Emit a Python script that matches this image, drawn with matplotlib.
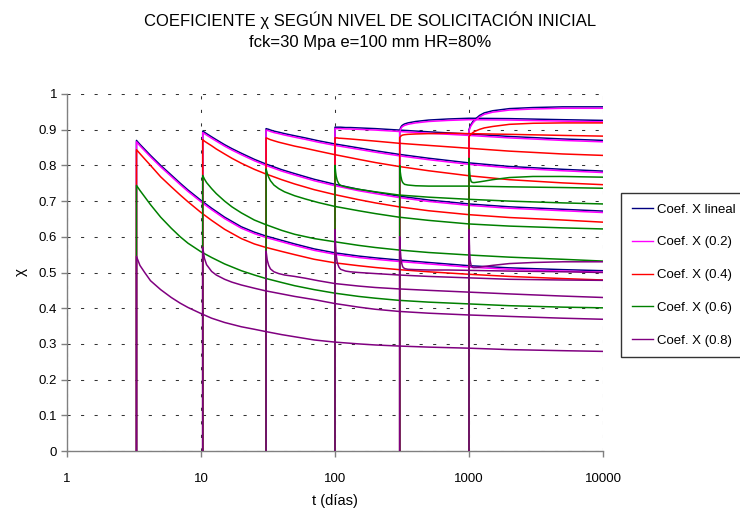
import matplotlib
matplotlib.use("Agg")
import matplotlib.pyplot as plt
from matplotlib.ticker import FixedLocator, NullLocator, FixedFormatter

plt.rcParams["font.family"] = ["Liberation Sans", "DejaVu Sans"]

# ---------------------------------------------------------------------------
# Datos: coeficiente chi para cada edad de puesta en carga t0
# (cada curva arranca en (t0, 0) para dibujar el tramo vertical)
# ---------------------------------------------------------------------------

T3 = [3.3, 3.3, 3.5, 3.8, 4.2, 5, 6, 7, 8, 10, 12, 15, 20, 25, 30, 40, 50, 70,
      100, 150, 200, 300, 500, 1000, 2000, 5000, 10000]
X3_lin = [0, 0.870, 0.859, 0.845, 0.828, 0.800, 0.773, 0.750, 0.731, 0.702, 0.680, 0.655, 0.628,
          0.613, 0.603, 0.590, 0.580, 0.566, 0.555, 0.546, 0.541, 0.535, 0.528, 0.519, 0.513, 0.508, 0.505]
X3_02 = [0, 0.866, 0.855, 0.841, 0.824, 0.796, 0.769, 0.746, 0.727, 0.698, 0.676, 0.651, 0.624,
         0.609, 0.599, 0.586, 0.576, 0.562, 0.551, 0.542, 0.537, 0.531, 0.524, 0.515, 0.509, 0.504, 0.501]
X3_04 = [0, 0.844, 0.833, 0.818, 0.800, 0.768, 0.740, 0.717, 0.698, 0.668, 0.646, 0.621, 0.595,
         0.580, 0.571, 0.559, 0.550, 0.537, 0.527, 0.519, 0.514, 0.508, 0.502, 0.495, 0.489, 0.483, 0.479]
X3_06 = [0, 0.744, 0.730, 0.712, 0.690, 0.655, 0.624, 0.600, 0.582, 0.558, 0.542, 0.524, 0.505,
         0.493, 0.484, 0.472, 0.463, 0.452, 0.442, 0.433, 0.428, 0.422, 0.417, 0.412, 0.407, 0.403, 0.401]
X3_08 = [0, 0.545, 0.520, 0.500, 0.477, 0.452, 0.430, 0.414, 0.402, 0.385, 0.372, 0.360, 0.348,
         0.341, 0.335, 0.326, 0.320, 0.311, 0.305, 0.300, 0.297, 0.294, 0.291, 0.288, 0.284, 0.281, 0.279]

T10 = [10.3, 10.3, 10.6, 11, 12, 13, 15, 17, 20, 25, 30, 40, 50, 70, 100, 150, 200,
       300, 500, 1000, 2000, 5000, 10000]
X10_lin = [0, 0.896, 0.893, 0.889, 0.880, 0.872, 0.858, 0.847, 0.834, 0.817, 0.805, 0.788, 0.777,
           0.761, 0.747, 0.733, 0.725, 0.714, 0.703, 0.692, 0.684, 0.677, 0.672]
X10_02 = [0, 0.892, 0.889, 0.885, 0.876, 0.868, 0.854, 0.843, 0.830, 0.813, 0.801, 0.784, 0.773,
          0.757, 0.743, 0.729, 0.721, 0.710, 0.699, 0.688, 0.680, 0.673, 0.668]
X10_04 = [0, 0.872, 0.868, 0.864, 0.855, 0.846, 0.832, 0.820, 0.806, 0.789, 0.777, 0.760, 0.748,
          0.732, 0.718, 0.704, 0.695, 0.684, 0.673, 0.662, 0.654, 0.647, 0.641]
X10_06 = [0, 0.772, 0.762, 0.752, 0.735, 0.721, 0.700, 0.684, 0.667, 0.647, 0.635, 0.618, 0.607,
          0.595, 0.586, 0.576, 0.570, 0.563, 0.556, 0.549, 0.543, 0.537, 0.532]
X10_08 = [0, 0.571, 0.540, 0.522, 0.503, 0.493, 0.481, 0.473, 0.465, 0.456, 0.449, 0.440, 0.433,
          0.424, 0.413, 0.403, 0.397, 0.391, 0.386, 0.381, 0.377, 0.372, 0.369]

T30 = [30.6, 30.6, 31.2, 32, 33, 35, 38, 42, 50, 60, 75, 100, 150, 200, 300, 500,
       1000, 2000, 5000, 10000]
X30_lin = [0, 0.903, 0.902, 0.901, 0.899, 0.896, 0.893, 0.889, 0.883, 0.877, 0.869, 0.860, 0.849,
           0.841, 0.831, 0.820, 0.807, 0.797, 0.789, 0.784]
X30_02 = [0, 0.899, 0.898, 0.897, 0.895, 0.892, 0.889, 0.885, 0.879, 0.873, 0.865, 0.856, 0.845,
          0.837, 0.827, 0.816, 0.803, 0.793, 0.785, 0.780]
X30_04 = [0, 0.877, 0.876, 0.874, 0.872, 0.869, 0.865, 0.861, 0.854, 0.848, 0.840, 0.830, 0.817,
          0.808, 0.797, 0.785, 0.771, 0.760, 0.751, 0.746]
X30_06 = [0, 0.790, 0.778, 0.767, 0.757, 0.745, 0.735, 0.726, 0.715, 0.706, 0.696, 0.685, 0.673,
          0.665, 0.655, 0.646, 0.636, 0.630, 0.625, 0.622]
X30_08 = [0, 0.560, 0.535, 0.520, 0.510, 0.502, 0.497, 0.493, 0.489, 0.484, 0.477, 0.469, 0.462,
          0.458, 0.454, 0.450, 0.445, 0.440, 0.434, 0.430]

T100 = [100, 100, 101, 102, 104, 107, 110, 120, 130, 150, 200, 300, 500, 1000, 2000,
        5000, 10000]
X100_lin = [0, 0.907, 0.907, 0.907, 0.907, 0.907, 0.907, 0.906, 0.906, 0.905, 0.903, 0.899, 0.894,
            0.888, 0.881, 0.874, 0.870]
X100_02 = [0, 0.903, 0.903, 0.903, 0.903, 0.903, 0.903, 0.902, 0.902, 0.901, 0.899, 0.895, 0.890,
           0.884, 0.877, 0.870, 0.866]
X100_04 = [0, 0.877, 0.877, 0.877, 0.877, 0.876, 0.876, 0.875, 0.874, 0.872, 0.868, 0.862, 0.856,
           0.848, 0.840, 0.832, 0.828]
X100_06 = [0, 0.800, 0.782, 0.770, 0.757, 0.748, 0.744, 0.740, 0.737, 0.733, 0.726, 0.717, 0.711,
           0.705, 0.700, 0.695, 0.692]
X100_08 = [0, 0.620, 0.575, 0.550, 0.527, 0.515, 0.509, 0.504, 0.502, 0.500, 0.497, 0.493, 0.489,
           0.485, 0.481, 0.479, 0.478]

T300 = [304, 304, 307, 310, 315, 320, 330, 350, 400, 500, 700, 1000, 2000, 5000, 10000]
X300_lin = [0, 0.897, 0.903, 0.907, 0.911, 0.913, 0.916, 0.919, 0.923, 0.927, 0.930, 0.932, 0.931,
            0.928, 0.926]
X300_02 = [0, 0.893, 0.899, 0.903, 0.907, 0.909, 0.912, 0.915, 0.919, 0.923, 0.926, 0.928, 0.927,
           0.924, 0.922]
X300_04 = [0, 0.878, 0.880, 0.882, 0.884, 0.885, 0.886, 0.887, 0.888, 0.889, 0.890, 0.889, 0.887,
           0.884, 0.882]
X300_06 = [0, 0.800, 0.782, 0.770, 0.758, 0.752, 0.747, 0.745, 0.743, 0.742, 0.742, 0.742, 0.740,
           0.738, 0.736]
X300_08 = [0, 0.600, 0.565, 0.543, 0.525, 0.516, 0.511, 0.509, 0.508, 0.507, 0.507, 0.506, 0.504,
           0.502, 0.500]

T1000 = [1000, 1000, 1010, 1020, 1040, 1070, 1100, 1200, 1300, 1500, 2000, 3000, 5000, 10000]
X1000_lin = [0, 0.900, 0.905, 0.910, 0.916, 0.923, 0.928, 0.940, 0.947, 0.953, 0.959, 0.962, 0.964,
             0.964]
X1000_02 = [0, 0.896, 0.901, 0.906, 0.912, 0.919, 0.924, 0.936, 0.943, 0.949, 0.955, 0.958, 0.960,
            0.960]
X1000_04 = [0, 0.881, 0.883, 0.885, 0.888, 0.892, 0.895, 0.901, 0.905, 0.909, 0.915, 0.918, 0.919,
            0.919]
X1000_06 = [0, 0.820, 0.785, 0.765, 0.754, 0.752, 0.752, 0.754, 0.756, 0.760, 0.766, 0.769, 0.769,
            0.767]
X1000_08 = [0, 0.620, 0.560, 0.533, 0.518, 0.514, 0.514, 0.515, 0.517, 0.520, 0.525, 0.528, 0.530,
            0.530]

tiempos = [T3, T10, T30, T100, T300, T1000]
series = [
    ("Coef. X lineal", "#000080", [X3_lin, X10_lin, X30_lin, X100_lin, X300_lin, X1000_lin]),
    ("Coef. X (0.2)", "#FF00FF", [X3_02, X10_02, X30_02, X100_02, X300_02, X1000_02]),
    ("Coef. X (0.4)", "#FF0000", [X3_04, X10_04, X30_04, X100_04, X300_04, X1000_04]),
    ("Coef. X (0.6)", "#008000", [X3_06, X10_06, X30_06, X100_06, X300_06, X1000_06]),
    ("Coef. X (0.8)", "#800080", [X3_08, X10_08, X30_08, X100_08, X300_08, X1000_08]),
]

y_ticks = [0, 0.1, 0.2, 0.3, 0.4, 0.5, 0.6, 0.7, 0.8, 0.9, 1]
y_labels = ["0", "0.1", "0.2", "0.3", "0.4", "0.5", "0.6", "0.7", "0.8", "0.9", "1"]
x_ticks = [1, 10, 100, 1000, 10000]
x_labels = ["1", "10", "100", "1000", "10000"]

# ---------------------------------------------------------------------------
# Figura
# ---------------------------------------------------------------------------

fig = plt.figure(figsize=(7.40, 5.08), dpi=100)
ax = fig.add_axes([67 / 740, 1 - 451 / 508, 536 / 740, 357 / 508])

for k, (nombre, color, curvas) in enumerate(series):
    for i, (t, x) in enumerate(zip(tiempos, curvas)):
        ax.plot(t, x, color=color, linewidth=1.1, zorder=3 + k,
                label=nombre if i == 0 else None)

ax.set_xscale("log")
ax.set_xlim(1, 10000)
ax.set_ylim(0, 1)

ax.xaxis.set_major_locator(FixedLocator(x_ticks))
ax.xaxis.set_major_formatter(FixedFormatter(x_labels))
ax.xaxis.set_minor_locator(NullLocator())
ax.yaxis.set_major_locator(FixedLocator(y_ticks))
ax.yaxis.set_major_formatter(FixedFormatter(y_labels))

ax.tick_params(axis="both", direction="out", length=4, width=1, color="#808080",
               labelsize=9.5, labelcolor="black")
ax.tick_params(axis="x", pad=12)
ax.tick_params(axis="y", pad=3)

ax.grid(True, which="major", color="#333333", linewidth=0.75,
        linestyle=(0, (3, 10)), zorder=1)
ax.set_axisbelow(True)

for lado in ["top", "right"]:
    ax.spines[lado].set_visible(False)
for lado in ["left", "bottom"]:
    ax.spines[lado].set_color("#808080")
    ax.spines[lado].set_linewidth(1)

ax.set_xlabel("t (días)", fontsize=10.5, labelpad=6)
ax.set_ylabel("χ", fontsize=11, labelpad=8)

fig.text(0.5, 1 - 20 / 508, "COEFICIENTE χ SEGÚN NIVEL DE SOLICITACIÓN INICIAL",
         ha="center", va="center", fontsize=12)
fig.text(0.5, 1 - 43 / 508, "fck=30 Mpa e=100 mm HR=80%",
         ha="center", va="center", fontsize=12)

leg = fig.legend(loc="upper left", bbox_to_anchor=(621 / 740, 1 - 193 / 508),
                 fontsize=9.5, frameon=True, fancybox=False, shadow=False,
                 handlelength=1.6, handletextpad=0.3, labelspacing=1.55,
                 borderpad=0.8, borderaxespad=0)
leg.get_frame().set_edgecolor("black")
leg.get_frame().set_linewidth(1)
for linea in leg.get_lines():
    linea.set_linewidth(1)

fig.savefig("out.png", dpi=100)
